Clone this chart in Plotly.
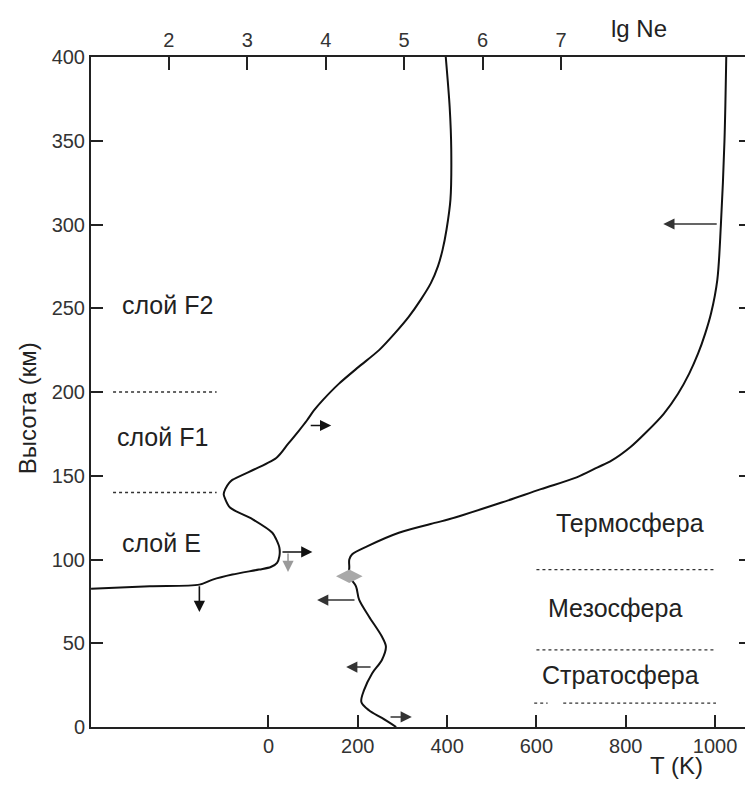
import plotly.graph_objects as go

# ---------------- data ----------------
# Electron density profile: altitude (km) vs lg Ne
ne_alt = [82.5, 84, 85, 88, 91, 94, 95.5, 98, 102, 107, 112, 116, 124, 131, 136, 139, 142, 145.7,
          147.5, 160.6, 169, 177, 183, 189, 195, 205, 215, 225, 235, 245, 255, 265, 275, 285, 297,
          315, 345, 370, 400]
ne_lg = [1.01, 1.76, 2.39, 2.56, 2.81, 3.15, 3.30, 3.38, 3.41, 3.41, 3.37, 3.32, 3.07, 2.78, 2.72,
         2.70, 2.72, 2.77, 2.81, 3.37, 3.52, 3.66, 3.76, 3.85, 3.96, 4.17, 4.42, 4.68, 4.88, 5.06,
         5.21, 5.34, 5.43, 5.49, 5.54, 5.59, 5.60, 5.58, 5.53]

# Temperature profile: altitude (km) vs T (K)
t_alt = [0, 5.4, 10, 15, 22, 32, 40, 48, 54, 66, 76, 84, 90, 95.5, 100, 103, 108, 116, 122, 124,
         134, 142, 149, 155, 159, 167, 175.5, 187, 199, 211, 223, 235, 247, 267, 300, 350, 400]
t_val = [286, 254, 225, 208, 214, 232, 254, 263, 254, 225, 203, 196, 181, 181, 181, 187, 222, 292,
         375, 404, 522, 610, 690, 737, 768, 810, 844, 885, 917, 942, 962, 978, 991, 1005, 1013,
         1021, 1025]

# mesopause marker
marker_alt = [90]
marker_t = [181]

# tick labels
alt_ticks = [0, 50, 100, 150, 200, 250, 300, 350, 400]
t_ticks = [0, 200, 400, 600, 800, 1000]
lg_ticks = [2, 3, 4, 5, 6, 7]

# ionospheric layer boundaries (km), drawn between lg Ne limits
iono_bounds = [200, 140]
iono_lg_span = [1.29, 2.61]
# atmospheric layer boundaries (km), drawn between T limits
atm_bounds = [94, 46]
atm_t_span = [600, 1002]
strat_bound = 14.3
strat_t_spans = [[595, 625], [660, 1002]]

# layer labels
iono_labels = ["слой F2", "слой F1", "слой E"]
iono_label_alt = [252, 173, 110]
iono_label_lg = [1.38, 1.31, 1.38]
atm_labels = ["Термосфера", "Мезосфера", "Стратосфера"]
atm_label_alt = [122, 71, 31]
atm_label_t = [810, 777, 788]

# arrows on the Ne curve: (alt_from, lg_from, alt_to, lg_to, colour)
ne_arrows = [
    (180, 3.79, 180, 4.07, "#111111"),
    (85, 2.39, 68.7, 2.39, "#111111"),
    (104.5, 3.43, 104.5, 3.83, "#111111"),
    (104.5, 3.52, 92.5, 3.52, "#9a9a9a"),
]
# arrows on the T curve: (alt, T_from, T_to)
t_arrows = [
    (300.3, 1007, 884),
    (75.8, 196, 109),
    (35.8, 232, 174),
    (6, 270, 321),
]

# ---------------- figure ----------------
FONT = "Liberation Sans, Arial, sans-serif"
AX = "#222222"

fig = go.Figure()

fig.add_trace(go.Scatter(x=ne_lg, y=ne_alt, xaxis="x2", yaxis="y", mode="lines",
                         line=dict(color="#111111", width=2, shape="spline", smoothing=0.8)))
fig.add_trace(go.Scatter(x=t_val, y=t_alt, xaxis="x", yaxis="y", mode="lines",
                         line=dict(color="#111111", width=2, shape="spline", smoothing=0.9)))
fig.add_trace(go.Scatter(x=marker_t, y=marker_alt, mode="markers",
                         marker=dict(symbol="diamond-wide", size=19, color="#a8a8a8",
                                     line=dict(width=0))))

for b in iono_bounds:
    fig.add_trace(go.Scatter(x=iono_lg_span, y=[b, b], xaxis="x2", mode="lines",
                             line=dict(color="#333333", width=1.3, dash="dot")))
for b in atm_bounds:
    fig.add_trace(go.Scatter(x=atm_t_span, y=[b, b], mode="lines",
                             line=dict(color="#333333", width=1.3, dash="dot")))
for span in strat_t_spans:
    fig.add_trace(go.Scatter(x=span, y=[strat_bound, strat_bound], mode="lines",
                             line=dict(color="#333333", width=1.3, dash="dot")))

annotations = []
for txt, a, lg in zip(iono_labels, iono_label_alt, iono_label_lg):
    annotations.append(dict(x=lg, y=a, xref="x2", yref="y", text=txt, showarrow=False,
                            xanchor="left", yanchor="middle",
                            font=dict(family=FONT, size=25, color="#222222")))
for txt, a, t in zip(atm_labels, atm_label_alt, atm_label_t):
    annotations.append(dict(x=t, y=a, xref="x", yref="y", text=txt, showarrow=False,
                            xanchor="center", yanchor="middle",
                            font=dict(family=FONT, size=25, color="#222222")))

for a0, l0, a1, l1, col in ne_arrows:
    annotations.append(dict(x=l1, y=a1, ax=l0, ay=a0, xref="x2", yref="y", axref="x2", ayref="y",
                            text="", showarrow=True, arrowhead=2, arrowsize=1.4, arrowwidth=1.6,
                            arrowcolor=col, standoff=0, startstandoff=0))
for a, t0, t1 in t_arrows:
    annotations.append(dict(x=t1, y=a, ax=t0, ay=a, xref="x", yref="y", axref="x", ayref="y",
                            text="", showarrow=True, arrowhead=2, arrowsize=1.4, arrowwidth=1.6,
                            arrowcolor="#333333", standoff=0, startstandoff=0))

annotations += [
    dict(x=0.831, y=1.043, xref="paper", yref="paper", text="lg Ne", showarrow=False,
         xanchor="center", yanchor="middle",
         font=dict(family=FONT, size=24, color="#222222")),
    dict(x=0.887, y=-0.057, xref="paper", yref="paper", text="T (K)", showarrow=False,
         xanchor="center", yanchor="middle",
         font=dict(family=FONT, size=24, color="#222222")),
    dict(x=-0.0967, y=0.476, xref="paper", yref="paper", text="Высота (км)", showarrow=False,
         xanchor="center", yanchor="middle", textangle=-90,
         font=dict(family=FONT, size=24, color="#222222")),
]

tickfont = dict(family=FONT, size=20, color="#333333")

# the page body adds an 8px offset, so the figure is 8px smaller
fig.update_layout(
    width=745, height=777,
    margin=dict(l=83, r=0, t=49, b=58),
    paper_bgcolor="white", plot_bgcolor="white",
    showlegend=False,
    annotations=annotations,
    xaxis=dict(range=[-397.3, 1080.4], tickvals=t_ticks, ticks="inside", ticklen=12,
               tickwidth=1.6, tickcolor=AX, showline=True, linewidth=2, linecolor=AX,
               showgrid=False, zeroline=False, tickfont=tickfont),
    xaxis2=dict(range=[1.009, 9.42], overlaying="x", side="top", tickvals=lg_ticks,
                ticks="inside", ticklen=13, tickwidth=1.6, tickcolor=AX, showline=True,
                linewidth=2, linecolor=AX, showgrid=False, zeroline=False, tickfont=tickfont),
    yaxis=dict(range=[0, 400], tickvals=alt_ticks, ticks="inside", ticklen=12, tickwidth=1.6,
               tickcolor=AX, showline=True, linewidth=2, linecolor=AX, mirror="ticks",
               showgrid=False, zeroline=False, tickfont=tickfont),
)

fig.write_html("out.html")
